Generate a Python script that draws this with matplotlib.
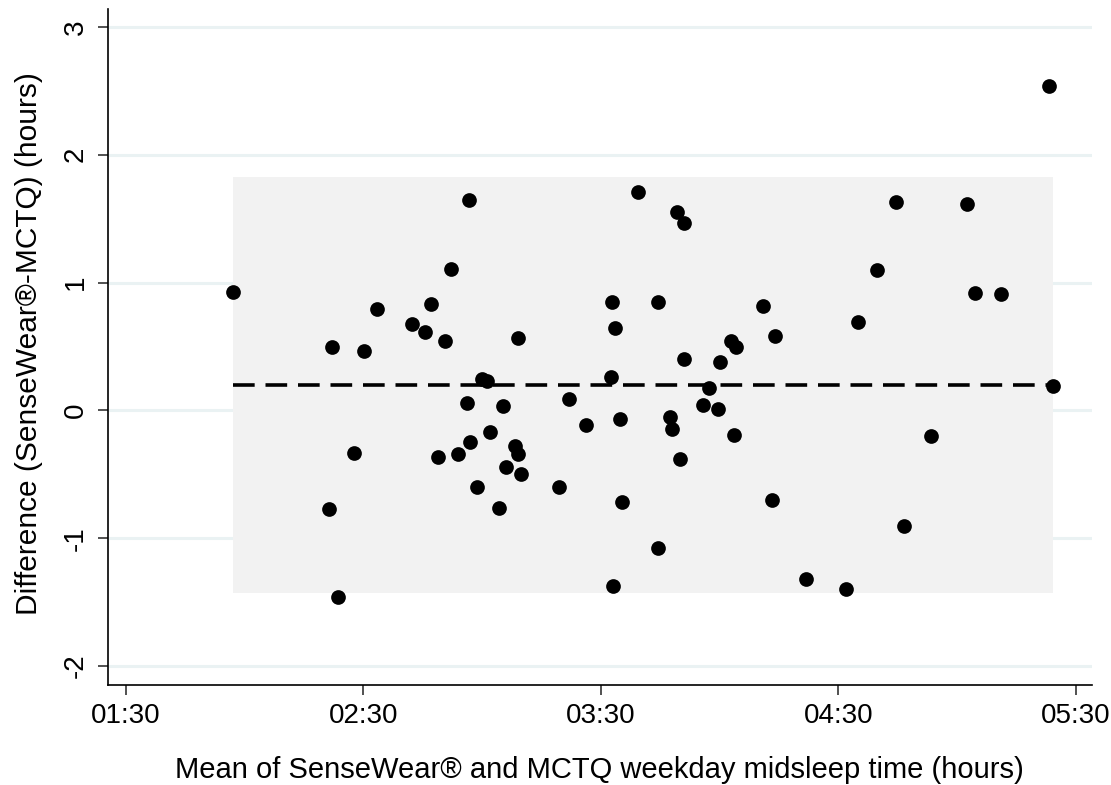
import matplotlib
matplotlib.use("Agg")
import matplotlib.pyplot as plt
from matplotlib.ticker import FuncFormatter
import numpy as np

plt.rcParams['font.family'] = ['Liberation Sans', 'DejaVu Sans']
plt.rcParams['axes.unicode_minus'] = False

# Mean of the two midsleep times (decimal hours)
mean_hours = [
    1.952, 2.369, 2.356, 2.393, 2.459, 2.501, 2.559, 2.703, 2.761, 2.783,
    2.813, 2.844, 2.869, 2.898, 2.935, 2.948, 2.944, 2.979, 2.998, 3.022,
    3.035, 3.072, 3.087, 3.099, 3.139, 3.153, 3.151, 3.163,
    3.323, 3.366, 3.438, 3.542, 3.547, 3.561, 3.553, 3.583, 3.589, 3.655,
    3.742, 3.742, 3.791, 3.799, 3.822, 3.834, 3.850, 3.850, 3.930, 3.957,
    3.994, 4.003, 4.047, 4.060, 4.068, 4.182, 4.220, 4.233,
    4.366, 4.532, 4.585, 4.665, 4.743, 4.776, 4.891, 5.044, 5.075, 5.184,
    5.387, 5.406,
]
# Difference SenseWear - MCTQ (hours)
diff_hours = [
    0.929, 0.498, -0.772, -1.462, -0.331, 0.465, 0.796, 0.674, 0.613, 0.830,
    -0.362, 0.545, 1.104, -0.339, 0.058, -0.251, 1.646, -0.602, 0.248, 0.228,
    -0.169, -0.761, 0.034, -0.443, -0.279, -0.341, 0.569, -0.500,
    -0.599, 0.092, -0.112, 0.264, 0.851, 0.647, -1.374, -0.067, -0.714, 1.711,
    0.851, -1.079, -0.054, -0.148, 1.555, -0.383, 1.464, 0.400, 0.045, 0.173,
    0.013, 0.376, 0.545, -0.192, 0.498, 0.819, -0.703, 0.582,
    -1.319, -1.394, 0.692, 1.099, 1.631, -0.908, -0.200, 1.617, 0.919, 0.911,
    2.541, 0.188,
]
mean_diff = 0.20
loa_upper = 1.826
loa_lower = -1.429

x_ticks = [1.5, 2.5, 3.5, 4.5, 5.5]
y_ticks = [-2, -1, 0, 1, 2, 3]

fig = plt.figure(figsize=(11.11, 7.85), dpi=100)
ax = fig.add_axes([0.0969, 0.1274, 0.886, 0.861])

xmin, xmax = min(mean_hours), max(mean_hours)

for yt in y_ticks:
    ax.axhline(yt, color='#eaf2f3', lw=2.2, zorder=0)

ax.fill_between([xmin, xmax], loa_lower, loa_upper, color='#f2f2f2', lw=0, zorder=1)
ax.plot([xmin, xmax], [mean_diff, mean_diff], color='black', lw=2.6,
        dashes=(6, 3), zorder=2)
ax.scatter(mean_hours, diff_hours, s=112, color='black', zorder=3, linewidths=0)

ax.set_xlim(1.423, 5.569)
ax.set_ylim(-2.149, 3.14)
ax.set_xticks(x_ticks)
ax.set_yticks(y_ticks)

def fmt(v, pos):
    h = int(v)
    m = int(round((v - h) * 60))
    return f"{h:02d}:{m:02d}"

ax.xaxis.set_major_formatter(FuncFormatter(fmt))
for s in ['top', 'right']:
    ax.spines[s].set_visible(False)
for s in ['left', 'bottom']:
    ax.spines[s].set_linewidth(1.2)
ax.tick_params(axis='both', length=7.2, width=1.2, color='#333333', labelsize=20, pad=6.5)
ax.tick_params(axis='x', pad=6)
for lab in ax.get_yticklabels():
    lab.set_rotation(90)
    lab.set_va('center')

ax.set_xlabel("Mean of SenseWear® and MCTQ weekday midsleep time (hours)", fontsize=21, labelpad=19)
ax.set_ylabel("Difference (SenseWear®-MCTQ) (hours)", fontsize=21.5, labelpad=14)
ax.yaxis.set_label_coords(-0.066, 0.505)

fig.savefig("out.png", dpi=100)
